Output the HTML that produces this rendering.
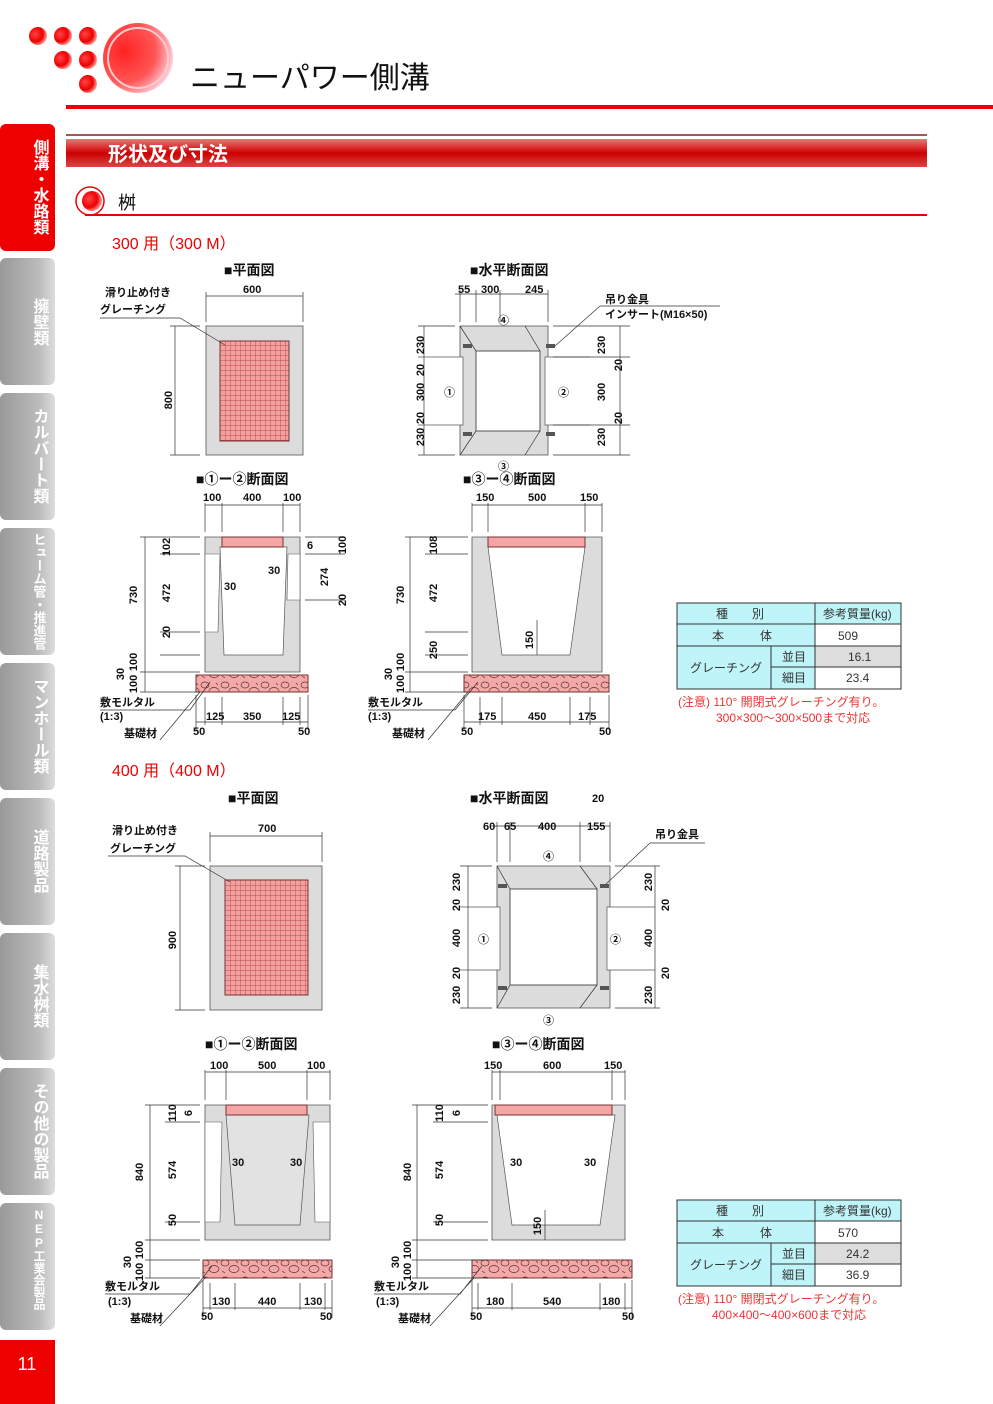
<!DOCTYPE html>
<html><head><meta charset="utf-8"><style>
body{margin:0;background:#fff}
svg{display:block;font-family:"Liberation Sans","Noto Sans CJK JP",sans-serif}
.d{font-size:11px;font-weight:bold;fill:#111}
.t{font-size:14px;font-weight:bold;fill:#111}
.l{stroke:#333;stroke-width:.7;fill:none}
.c{fill:#dcdcdc;stroke:#555;stroke-width:.8}
.v{writing-mode:vertical-rl;text-orientation:upright;font-weight:bold}
</style></head><body>
<svg width="993" height="1404" viewBox="0 0 993 1404">
<defs>
<radialGradient id="rb" cx="35%" cy="40%" r="70%"><stop offset="0" stop-color="#f44"/><stop offset=".6" stop-color="#e00"/><stop offset="1" stop-color="#fbb"/></radialGradient>
<radialGradient id="big" cx="30%" cy="40%" r="75%"><stop offset="0" stop-color="#f22"/><stop offset=".6" stop-color="#f55"/><stop offset="1" stop-color="#fde"/></radialGradient>
<linearGradient id="hb" x1="0" y1="0" x2="0" y2="1"><stop offset="0" stop-color="#e77"/><stop offset=".5" stop-color="#c00"/><stop offset="1" stop-color="#d44"/></linearGradient>
<linearGradient id="tab" x1="0" y1="0" x2="1" y2="0"><stop offset="0" stop-color="#999"/><stop offset=".7" stop-color="#bbb"/><stop offset="1" stop-color="#ddd"/></linearGradient>
<pattern id="gr" width="5" height="5" patternUnits="userSpaceOnUse"><rect width="5" height="5" fill="#f2a0a0"/><path d="M0 0H5M0 0V5" stroke="#a33" stroke-width=".7"/></pattern>
<pattern id="rub" width="20" height="17" patternUnits="userSpaceOnUse"><rect width="20" height="17" fill="#f5a8a8"/><ellipse cx="5" cy="5" rx="4" ry="3" fill="none" stroke="#533" stroke-width=".7"/><ellipse cx="14" cy="11" rx="5" ry="3.5" fill="none" stroke="#533" stroke-width=".7"/><path d="M2 13l3 2M16 3l2 2" stroke="#533" stroke-width=".7"/></pattern>
</defs>

<!-- logo -->
<g fill="url(#rb)"><circle cx="38" cy="36" r="9"/><circle cx="63" cy="36" r="9"/><circle cx="88" cy="36" r="9"/><circle cx="63" cy="60" r="9"/><circle cx="88" cy="60" r="9"/><circle cx="88" cy="84" r="9"/></g>
<circle cx="138" cy="58" r="35" fill="url(#big)"/><circle cx="138" cy="58" r="30" fill="none" stroke="#fcc" stroke-width="2"/>
<text x="190" y="88" font-size="30" fill="#111">ニューパワー側溝</text>
<rect x="66" y="105" width="927" height="4" fill="#e00"/>

<!-- sidebar -->
<rect x="0" y="124" width="55" height="127" rx="6" fill="#e00"/>
<g fill="url(#tab)">
<rect x="0" y="258" width="55" height="127" rx="6"/><rect x="0" y="393" width="55" height="127" rx="6"/><rect x="0" y="528" width="55" height="127" rx="6"/><rect x="0" y="663" width="55" height="127" rx="6"/><rect x="0" y="798" width="55" height="127" rx="6"/><rect x="0" y="933" width="55" height="127" rx="6"/><rect x="0" y="1068" width="55" height="127" rx="6"/><rect x="0" y="1203" width="55" height="127" rx="6"/>
</g>
<g fill="#fff" class="v">
<text x="39" y="139" font-size="16">側溝・水路類</text>
<text x="39" y="298" font-size="16">擁壁類</text>
<text x="39" y="408" font-size="16">カルバート類</text>
<text x="39" y="533" font-size="13">ヒューム管・推進管</text>
<text x="39" y="678" font-size="16">マンホール類</text>
<text x="39" y="829" font-size="16">道路製品</text>
<text x="39" y="964" font-size="16">集水桝類</text>
<text x="39" y="1083" font-size="16">その他の製品</text>
<text x="39" y="1208" font-size="12">NEP工業会製品</text>
</g>
<rect x="0" y="1340" width="55" height="64" fill="#e00"/>
<text x="27" y="1370" fill="#fff" font-size="18" text-anchor="middle">11</text>

<!-- section header -->
<rect x="66" y="134" width="861" height="2" fill="#a55"/>
<rect x="66" y="139" width="861" height="28" fill="url(#hb)"/>
<text x="108" y="161" fill="#fff" font-size="20" font-weight="bold">形状及び寸法</text>
<circle cx="90" cy="201" r="14" fill="none" stroke="#e00" stroke-width="1.5"/><circle cx="92" cy="201" r="10" fill="url(#rb)"/>
<text x="118" y="209" font-size="18" fill="#111">桝</text>
<path d="M85 215H927" stroke="#e00" stroke-width="2"/>

<text x="112" y="249" font-size="16" fill="#e00">300 用（300 M）</text>
<text x="112" y="776" font-size="16" fill="#e00">400 用（400 M）</text>

<!-- ===== 300 plan ===== -->
<text x="224" y="275" class="t">■平面図</text>
<rect x="206" y="326" width="97" height="129" class="c" fill="#e8e8e8"/>
<rect x="220" y="341" width="69" height="100" fill="url(#gr)" stroke="#733"/>
<path class="l" d="M206 322V292M303 322V292M206 296H303M200 326H170M200 455H170M175 326V455"/>
<text x="243" y="293" class="d">600</text>
<text x="172" y="400" class="d" transform="rotate(-90 172 400)" text-anchor="middle">800</text>
<text x="105" y="296" class="d">滑り止め付き</text><text x="100" y="313" class="d">グレーチング</text>
<path class="l" d="M100 318H180L225 345"/>

<!-- ===== 300 horizontal ===== -->
<text x="470" y="275" class="t">■水平断面図</text>
<rect x="460" y="326" width="88" height="129" class="c"/>
<rect x="476" y="351" width="64" height="80" fill="#fff" stroke="#555"/>
<path fill="#fff" stroke="#555" stroke-width=".7" d="M418 357H463V425H418M590 357H545V425H590"/>
<path class="l" d="M460 326L476 351M525 326L540 351M460 455L476 431M525 455L540 431M460 322V290M476 322V290M500 322V290M548 322V290M455 294H548M418 326H455M418 455H455M553 326H630M553 455H630M553 357H630M553 425H630M424 326V455M620 326V455"/>
<g fill="#555"><rect x="463" y="344" width="9" height="4"/><rect x="463" y="432" width="9" height="4"/><rect x="546" y="344" width="9" height="4"/><rect x="546" y="432" width="9" height="4"/></g>
<text x="458" y="293" class="d">55</text><text x="481" y="293" class="d">300</text><text x="525" y="293" class="d">245</text>
<text x="498" y="324" class="d">④</text><text x="498" y="470" class="d">③</text><text x="444" y="396" class="d">①</text><text x="558" y="396" class="d">②</text>
<text x="605" y="303" class="d">吊り金具</text><text x="605" y="318" class="d">インサート(M16×50)</text>
<path class="l" d="M600 306H720M600 306L555 346"/>
<g class="d" text-anchor="middle">
<text transform="translate(424,345) rotate(-90)">230</text><text transform="translate(424,370) rotate(-90)">20</text><text transform="translate(424,392) rotate(-90)">300</text><text transform="translate(424,418) rotate(-90)">20</text><text transform="translate(424,437) rotate(-90)">230</text>
<text transform="translate(605,345) rotate(-90)">230</text><text transform="translate(622,365) rotate(-90)">20</text><text transform="translate(605,392) rotate(-90)">300</text><text transform="translate(622,418) rotate(-90)">20</text><text transform="translate(605,437) rotate(-90)">230</text>
</g>

<!-- ===== 300 sec 1-2 ===== -->
<text x="196" y="484" class="t">■①ー②断面図</text>
<path class="c" d="M205 537H300V672H205Z"/>
<path fill="#fff" stroke="#555" stroke-width=".7" d="M220 547H287L283 655H224Z"/>
<path fill="#fff" stroke="#555" stroke-width=".6" d="M205 554H220L218 632H205ZM300 554H288L287 600H300Z"/>
<rect x="222" y="537" width="61" height="10" fill="#f5a5a5" stroke="#733"/>
<rect x="196" y="675" width="112" height="17" fill="url(#rub)" stroke="#733"/>
<path class="l" d="M205 532V503M222 532V503M283 532V503M300 532V503M205 505H300M196 695V730M308 695V730M205 697V725M222 697V725M283 697V725M300 697V725M196 722H308M140 537H200M140 672H200M140 692H200M145 537V692M160 554H200M160 632H200M160 655H200M305 537H345M305 554H345M305 600H345"/>
<g class="d"><text x="203" y="501">100</text><text x="243" y="501">400</text><text x="283" y="501">100</text>
<text x="206" y="720">125</text><text x="243" y="720">350</text><text x="282" y="720">125</text><text x="193" y="735">50</text><text x="298" y="735">50</text>
<text x="224" y="590">30</text><text x="268" y="574">30</text><text x="307" y="549">6</text>
<text x="100" y="706">敷モルタル</text><text x="100" y="720">(1:3)</text><text x="124" y="737">基礎材</text></g>
<g class="d" text-anchor="middle"><text transform="translate(137,595) rotate(-90)">730</text><text transform="translate(170,547) rotate(-90)">102</text><text transform="translate(170,593) rotate(-90)">472</text><text transform="translate(170,632) rotate(-90)">20</text><text transform="translate(137,662) rotate(-90)">100</text><text transform="translate(124,674) rotate(-90)">30</text><text transform="translate(137,684) rotate(-90)">100</text><text transform="translate(346,545) rotate(-90)">100</text><text transform="translate(328,577) rotate(-90)">274</text><text transform="translate(346,600) rotate(-90)">20</text></g>
<path class="l" d="M100 710H190L210 682M160 740L200 692"/>

<!-- ===== 300 sec 3-4 ===== -->
<text x="463" y="484" class="t">■③ー④断面図</text>
<path class="c" d="M472 537H602V672H472Z"/>
<path fill="#fff" stroke="#555" stroke-width=".7" d="M488 547H585L570 655H502Z"/>
<rect x="488" y="537" width="97" height="10" fill="#f5a5a5" stroke="#733"/>
<rect x="464" y="675" width="145" height="17" fill="url(#rub)" stroke="#733"/>
<path class="l" d="M472 532V503M488 532V503M585 532V503M602 532V503M472 505H602M464 695V730M609 695V730M480 697V725M502 697V725M570 697V725M590 697V725M464 722H609M405 537H468M405 672H468M405 692H468M410 537V692M425 554H468M425 632H468M425 655H468M537 620V655"/>
<g class="d"><text x="476" y="501">150</text><text x="528" y="501">500</text><text x="580" y="501">150</text>
<text x="478" y="720">175</text><text x="528" y="720">450</text><text x="578" y="720">175</text><text x="461" y="735">50</text><text x="599" y="735">50</text>
<text x="368" y="706">敷モルタル</text><text x="368" y="720">(1:3)</text><text x="392" y="737">基礎材</text></g>
<g class="d" text-anchor="middle"><text transform="translate(404,595) rotate(-90)">730</text><text transform="translate(437,545) rotate(-90)">108</text><text transform="translate(437,593) rotate(-90)">472</text><text transform="translate(437,650) rotate(-90)">250</text><text transform="translate(404,662) rotate(-90)">100</text><text transform="translate(392,674) rotate(-90)">30</text><text transform="translate(404,684) rotate(-90)">100</text><text transform="translate(533,640) rotate(-90)">150</text></g>
<path class="l" d="M368 710H455L478 682M428 740L468 692"/>

<!-- table 300 -->
<g font-size="12" fill="#333">
<rect x="677" y="603" width="224" height="86" fill="#fff" stroke="#333"/>
<rect x="677" y="603" width="138" height="86" fill="#bff4f8"/>
<rect x="815" y="603" width="86" height="21" fill="#bff4f8"/>
<rect x="815" y="646" width="86" height="21" fill="#ddd"/>
<path stroke="#333" fill="none" d="M677 603H901V689H677ZM815 603V689M677 624H901M677 646H901M771 646V689M771 667H901"/>
<text x="716" y="618">種　　別</text><text x="823" y="618">参考質量(kg)</text>
<text x="712" y="640">本　　　体</text><text x="838" y="640">509</text>
<text x="690" y="672">グレーチング</text><text x="782" y="661">並目</text><text x="848" y="661">16.1</text><text x="782" y="682">細目</text><text x="846" y="682">23.4</text>
<text x="678" y="706" fill="#e33">(注意)  110°  開閉式グレーチング有り。</text>
<text x="716" y="722" fill="#e33">300×300～300×500まで対応</text>
</g>

<!-- ===== 400 plan ===== -->
<text x="228" y="803" class="t">■平面図</text>
<rect x="210" y="866" width="112" height="144" class="c" fill="#e8e8e8"/>
<rect x="225" y="880" width="83" height="115" fill="url(#gr)" stroke="#733"/>
<path class="l" d="M210 862V832M322 862V832M210 836H322M205 866H175M205 1010H175M180 866V1010"/>
<text x="258" y="832" class="d">700</text>
<text x="176" y="940" class="d" transform="rotate(-90 176 940)" text-anchor="middle">900</text>
<text x="112" y="834" class="d">滑り止め付き</text><text x="110" y="852" class="d">グレーチング</text>
<path class="l" d="M108 856H185L230 882"/>

<!-- ===== 400 horizontal ===== -->
<text x="470" y="803" class="t">■水平断面図</text>
<rect x="497" y="866" width="113" height="142" class="c"/>
<rect x="510" y="889" width="87" height="96" fill="#fff" stroke="#555"/>
<path fill="#fff" stroke="#555" stroke-width=".7" d="M460 907H500V970H460M655 907H607V970H655"/>
<path class="l" d="M497 866L510 889M580 866L597 889M497 1008L510 985M580 1008L597 985M497 862V822M510 862V822M580 862V822M610 862V822M490 826H610M460 866H492M460 1008H492M615 866H660M615 1008H660M468 866V1008M655 866V1008"/>
<g fill="#555"><rect x="498" y="884" width="9" height="4"/><rect x="498" y="986" width="9" height="4"/><rect x="600" y="884" width="9" height="4"/><rect x="600" y="986" width="9" height="4"/></g>
<text x="483" y="830" class="d">60</text><text x="504" y="830" class="d">65</text><text x="538" y="830" class="d">400</text><text x="587" y="830" class="d">155</text><text x="592" y="802" class="d">20</text>
<text x="543" y="860" class="d">④</text><text x="543" y="1024" class="d">③</text><text x="478" y="943" class="d">①</text><text x="610" y="943" class="d">②</text>
<text x="655" y="838" class="d">吊り金具</text><path class="l" d="M650 843H705M650 843L606 884"/>
<g class="d" text-anchor="middle">
<text transform="translate(460,882) rotate(-90)">230</text><text transform="translate(460,905) rotate(-90)">20</text><text transform="translate(460,938) rotate(-90)">400</text><text transform="translate(460,973) rotate(-90)">20</text><text transform="translate(460,995) rotate(-90)">230</text>
<text transform="translate(652,882) rotate(-90)">230</text><text transform="translate(669,905) rotate(-90)">20</text><text transform="translate(652,938) rotate(-90)">400</text><text transform="translate(669,973) rotate(-90)">20</text><text transform="translate(652,995) rotate(-90)">230</text>
</g>

<!-- ===== 400 sec 1-2 ===== -->
<text x="205" y="1049" class="t">■①ー②断面図</text>
<path class="c" d="M205 1105H330V1240H205Z"/>
<path fill="#fff" stroke="#555" stroke-width=".6" d="M205 1122H222L220 1222H205ZM330 1122H313L315 1222H330Z"/>
<path fill="#e2e2e2" stroke="#555" stroke-width=".7" d="M226 1115H309L300 1225H235Z"/>
<rect x="226" y="1105" width="81" height="10" fill="#f5a5a5" stroke="#733"/>
<rect x="203" y="1260" width="129" height="18" fill="url(#rub)" stroke="#733"/>
<path class="l" d="M205 1100V1070M226 1100V1070M307 1100V1070M330 1100V1070M205 1072H330M203 1280V1318M332 1280V1318M210 1283V1310M235 1283V1310M300 1283V1310M325 1283V1310M203 1308H332M145 1105H200M145 1240H200M145 1260H200M145 1278H200M150 1105V1278M165 1122H200M165 1222H200"/>
<g class="d"><text x="210" y="1069">100</text><text x="258" y="1069">500</text><text x="307" y="1069">100</text>
<text x="212" y="1305">130</text><text x="258" y="1305">440</text><text x="304" y="1305">130</text><text x="201" y="1320">50</text><text x="320" y="1320">50</text>
<text x="232" y="1166">30</text><text x="290" y="1166">30</text>
<text x="105" y="1290">敷モルタル</text><text x="108" y="1305">(1:3)</text><text x="130" y="1322">基礎材</text></g>
<g class="d" text-anchor="middle"><text transform="translate(143,1172) rotate(-90)">840</text><text transform="translate(176,1113) rotate(-90)">110</text><text transform="translate(192,1113) rotate(-90)">6</text><text transform="translate(176,1170) rotate(-90)">574</text><text transform="translate(176,1220) rotate(-90)">50</text><text transform="translate(143,1250) rotate(-90)">100</text><text transform="translate(131,1262) rotate(-90)">30</text><text transform="translate(143,1272) rotate(-90)">100</text></g>
<path class="l" d="M105 1294H190L212 1266M160 1326L205 1278"/>

<!-- ===== 400 sec 3-4 ===== -->
<text x="492" y="1049" class="t">■③ー④断面図</text>
<path class="c" d="M492 1105H625V1240H492Z"/>
<path fill="#fff" stroke="#555" stroke-width=".7" d="M497 1115H615L600 1225H512Z"/>
<rect x="495" y="1105" width="117" height="10" fill="#f5a5a5" stroke="#733"/>
<rect x="472" y="1260" width="160" height="18" fill="url(#rub)" stroke="#733"/>
<path class="l" d="M492 1100V1070M500 1100V1070M612 1100V1070M625 1100V1070M492 1072H625M472 1280V1318M632 1280V1318M478 1283V1310M512 1283V1310M600 1283V1310M625 1283V1310M472 1308H632M412 1105H488M412 1240H488M412 1260H488M412 1278H488M417 1105V1278M433 1122H488M433 1222H488M545 1210V1240"/>
<g class="d"><text x="484" y="1069">150</text><text x="543" y="1069">600</text><text x="604" y="1069">150</text>
<text x="486" y="1305">180</text><text x="543" y="1305">540</text><text x="602" y="1305">180</text><text x="470" y="1320">50</text><text x="622" y="1320">50</text>
<text x="510" y="1166">30</text><text x="584" y="1166">30</text>
<text x="374" y="1290">敷モルタル</text><text x="376" y="1305">(1:3)</text><text x="398" y="1322">基礎材</text></g>
<g class="d" text-anchor="middle"><text transform="translate(411,1172) rotate(-90)">840</text><text transform="translate(443,1113) rotate(-90)">110</text><text transform="translate(460,1113) rotate(-90)">6</text><text transform="translate(443,1170) rotate(-90)">574</text><text transform="translate(443,1220) rotate(-90)">50</text><text transform="translate(411,1250) rotate(-90)">100</text><text transform="translate(399,1262) rotate(-90)">30</text><text transform="translate(411,1272) rotate(-90)">100</text><text transform="translate(541,1226) rotate(-90)">150</text></g>
<path class="l" d="M374 1294H460L482 1266M430 1326L474 1278"/>

<!-- table 400 -->
<g font-size="12" fill="#333">
<rect x="677" y="1200" width="224" height="86" fill="#fff" stroke="#333"/>
<rect x="677" y="1200" width="138" height="86" fill="#bff4f8"/>
<rect x="815" y="1200" width="86" height="21" fill="#bff4f8"/>
<rect x="815" y="1243" width="86" height="21" fill="#ddd"/>
<path stroke="#333" fill="none" d="M677 1200H901V1286H677ZM815 1200V1286M677 1221H901M677 1243H901M771 1243V1286M771 1264H901"/>
<text x="716" y="1215">種　　別</text><text x="823" y="1215">参考質量(kg)</text>
<text x="712" y="1237">本　　　体</text><text x="838" y="1237">570</text>
<text x="690" y="1269">グレーチング</text><text x="782" y="1258">並目</text><text x="846" y="1258">24.2</text><text x="782" y="1279">細目</text><text x="846" y="1279">36.9</text>
<text x="678" y="1303" fill="#e33">(注意)  110°  開閉式グレーチング有り。</text>
<text x="712" y="1319" fill="#e33">400×400～400×600まで対応</text>
</g>
</svg>
</body></html>
